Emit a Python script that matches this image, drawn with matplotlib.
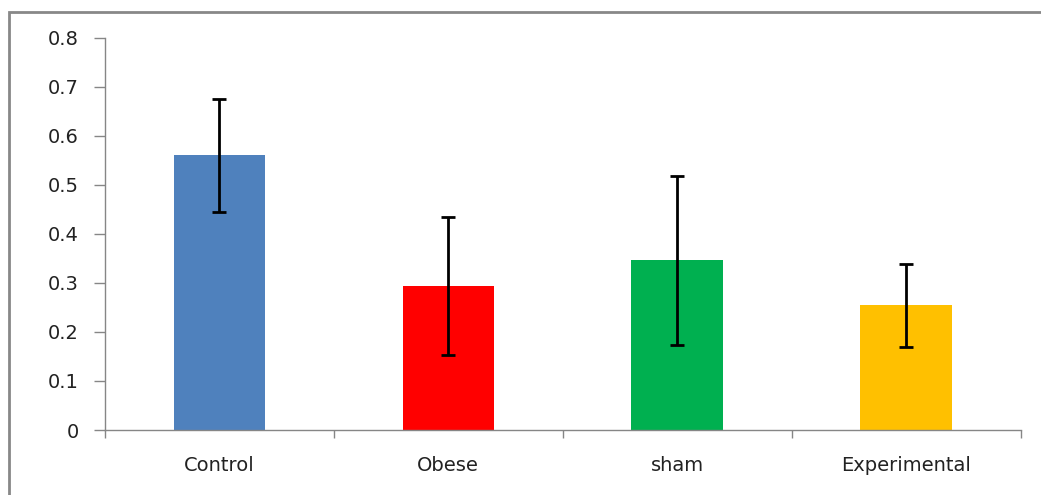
import matplotlib.pyplot as plt
from matplotlib.patches import Rectangle

groups = ['Control', 'Obese', 'sham', 'Experimental']
means = [0.560, 0.293, 0.346, 0.254]
errors = [0.116, 0.141, 0.172, 0.085]
colors = ['#4F81BD', '#FF0000', '#00B050', '#FFC000']
y_ticks = [0, 0.1, 0.2, 0.3, 0.4, 0.5, 0.6, 0.7, 0.8]

plt.rcParams['font.family'] = ['DejaVu Sans']
axis_gray = '#868686'

fig = plt.figure(figsize=(10.41, 4.95), dpi=100)
ax = fig.add_axes([105 / 1041, 65 / 495, (1020.5 - 105) / 1041, (430 - 37.7) / 495])

x = list(range(len(groups)))
ax.bar(x, means, width=0.4, color=colors, zorder=2)
ax.errorbar(x, means, yerr=errors, fmt='none', ecolor='black', elinewidth=2,
            capsize=5, capthick=2, zorder=3)

ax.set_xlim(-0.5, 3.5)
ax.set_ylim(0, 0.8)
ax.set_yticks(y_ticks)
ax.set_yticklabels(['0' if v == 0 else f'{v:.1f}' for v in y_ticks])

# category boundaries get the tick marks, names sit in the middle
ax.set_xticks([-0.5, 0.5, 1.5, 2.5, 3.5])
ax.set_xticklabels([])
ax.set_xticks(x, minor=True)
ax.set_xticklabels(groups, minor=True)
ax.tick_params(axis='x', which='major', length=6, width=1, color=axis_gray)
ax.tick_params(axis='x', which='minor', length=0, pad=18.5, labelsize=14, labelcolor='#222222')
ax.tick_params(axis='y', length=8, width=1, color=axis_gray, pad=11, labelsize=14,
               labelcolor='#222222')

for side in ['top', 'right']:
    ax.spines[side].set_visible(False)
for side in ['left', 'bottom']:
    ax.spines[side].set_color(axis_gray)
    ax.spines[side].set_linewidth(1)

# outer chart frame (right and bottom edges fall outside the image)
fig.patches.append(Rectangle((9 / 1041, -0.1), 1.2, (495 - 12) / 495 + 0.1,
                             transform=fig.transFigure, fill=False,
                             edgecolor='#888888', linewidth=2))

fig.savefig('out.png', dpi=100)
